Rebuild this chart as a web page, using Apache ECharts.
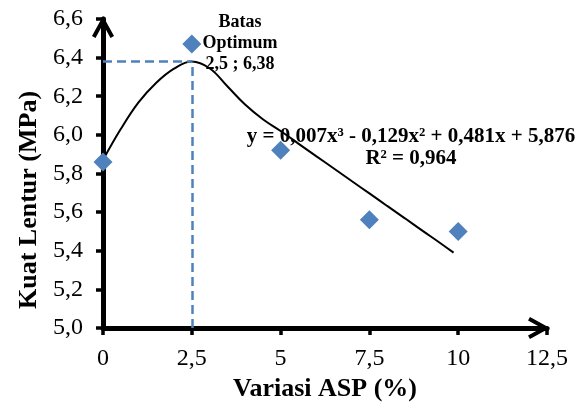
<!DOCTYPE html>
<html>
<head>
<meta charset="utf-8">
<script src="https://cdn.jsdelivr.net/npm/echarts@6/dist/echarts.min.js"></script>
<style>
  html, body { margin: 0; padding: 0; background: #fff; }
  #chart { width: 581px; height: 412px; }
</style>
</head>
<body>
<div id="chart"></div>
<script>
// data titik pengujian
const variasiAsp = [0, 2.5, 5, 7.5, 10];
const kuatLentur = [5.86, 6.47, 5.92, 5.56, 5.50];
// garis trendline
const trendX = [0, 0.5, 1, 1.5, 2, 2.5, 3, 3.5, 4, 4.5, 5, 5.5, 6, 6.5, 7, 7.5, 8, 8.5, 9, 9.5, 9.87];
const trendY = [5.87, 6.03, 6.168, 6.27, 6.343, 6.38, 6.345, 6.252, 6.157, 6.081, 6.02, 5.955, 5.89, 5.826, 5.761, 5.697, 5.632, 5.568, 5.503, 5.439, 5.39];
// batas optimum
const optimum = [2.5, 6.38];
const xTickLabels = ['0', '2,5', '5', '7,5', '10', '12,5'];
const yTickLabels = ['5,0', '5,2', '5,4', '5,6', '5,8', '6,0', '6,2', '6,4', '6,6'];
const yTitle = 'Kuat Lentur (MPa)';
const xTitle = 'Variasi ASP (%)';
const eqText = 'y = 0,007x³ - 0,129x² + 0,481x + 5,876';
const r2Text = 'R² = 0,964';
const optText = 'Batas\nOptimum\n2,5 ; 6,38';

const serif = '"Liberation Serif", "Times New Roman", serif';
const blue = '#4f81bd';
const chevron = 'path://M0,20 L11,0 L22,20 L18.5,21.9 L11,8.3 L3.5,21.9 Z';

const axisLine = {
    show: true,
    symbol: ['none', chevron],
    symbolSize: [22, 22],
    symbolOffset: [0, -8],
    lineStyle: { color: '#000', width: 5 }
};

const mChart = echarts.init(document.getElementById('chart'));
const option = {
    animation: false,
    grid: { left: 103, right: 34, top: 19, bottom: 84 },
    xAxis: {
        type: 'value',
        min: 0, max: 12.5, interval: 2.5,
        name: xTitle,
        nameLocation: 'middle',
        nameGap: 42,
        nameTextStyle: { fontFamily: serif, fontWeight: 'bold', fontSize: 26, color: '#000' },
        axisLine: axisLine,
        axisTick: { show: true, length: 7, lineStyle: { color: '#000', width: 3.5 } },
        axisLabel: {
            margin: 19,
            fontFamily: serif, fontSize: 24, color: '#000',
            formatter: (v, i) => xTickLabels[i]
        },
        splitLine: { show: false }
    },
    yAxis: {
        type: 'value',
        min: 5, max: 6.6, interval: 0.2,
        axisLine: axisLine,
        axisTick: { show: true, length: 7, lineStyle: { color: '#000', width: 3.5 } },
        axisLabel: {
            margin: 20,
            fontFamily: serif, fontSize: 24, color: '#000',
            formatter: (v, i) => yTickLabels[i]
        },
        splitLine: { show: false }
    },
    series: [
        {
            type: 'line',
            data: trendX.map((x, i) => [x, trendY[i]]),
            smooth: 0.4,
            showSymbol: false,
            silent: true,
            lineStyle: { color: '#000', width: 2 },
            z: 3
        },
        {
            type: 'scatter',
            data: variasiAsp.map((x, i) => [x, kuatLentur[i]]),
            symbol: 'diamond',
            symbolSize: 19,
            itemStyle: { color: blue, opacity: 1 },
            z: 4,
            markLine: {
                silent: true,
                symbol: 'none',
                label: { show: false },
                lineStyle: { color: blue, width: 2.5, type: [9, 5], opacity: 1 },
                data: [
                    [{ coord: [0, optimum[1]] }, { coord: [optimum[0], optimum[1]] }],
                    [{ coord: [optimum[0], 5] }, { coord: [optimum[0], optimum[1]] }]
                ]
            }
        }
    ],
    graphic: [
        {
            type: 'text', x: 29, y: 200, rotation: Math.PI / 2, z: 10,
            style: {
                text: yTitle, textAlign: 'center', textVerticalAlign: 'middle',
                font: 'bold 26px ' + serif, fill: '#000'
            }
        },
        {
            type: 'text', x: 240, y: 12, z: 10,
            style: {
                text: optText, textAlign: 'center',
                font: 'bold 18px ' + serif, lineHeight: 21, fill: '#000'
            }
        },
        {
            type: 'text', x: 411, y: 126, z: 10,
            style: {
                text: eqText + '\n' + r2Text, textAlign: 'center',
                font: 'bold 21px ' + serif, lineHeight: 22, fill: '#000'
            }
        }
    ]
};
mChart.setOption(option);
window.addEventListener('resize', function () {
    mChart.resize();
});
</script>
</body>
</html>
